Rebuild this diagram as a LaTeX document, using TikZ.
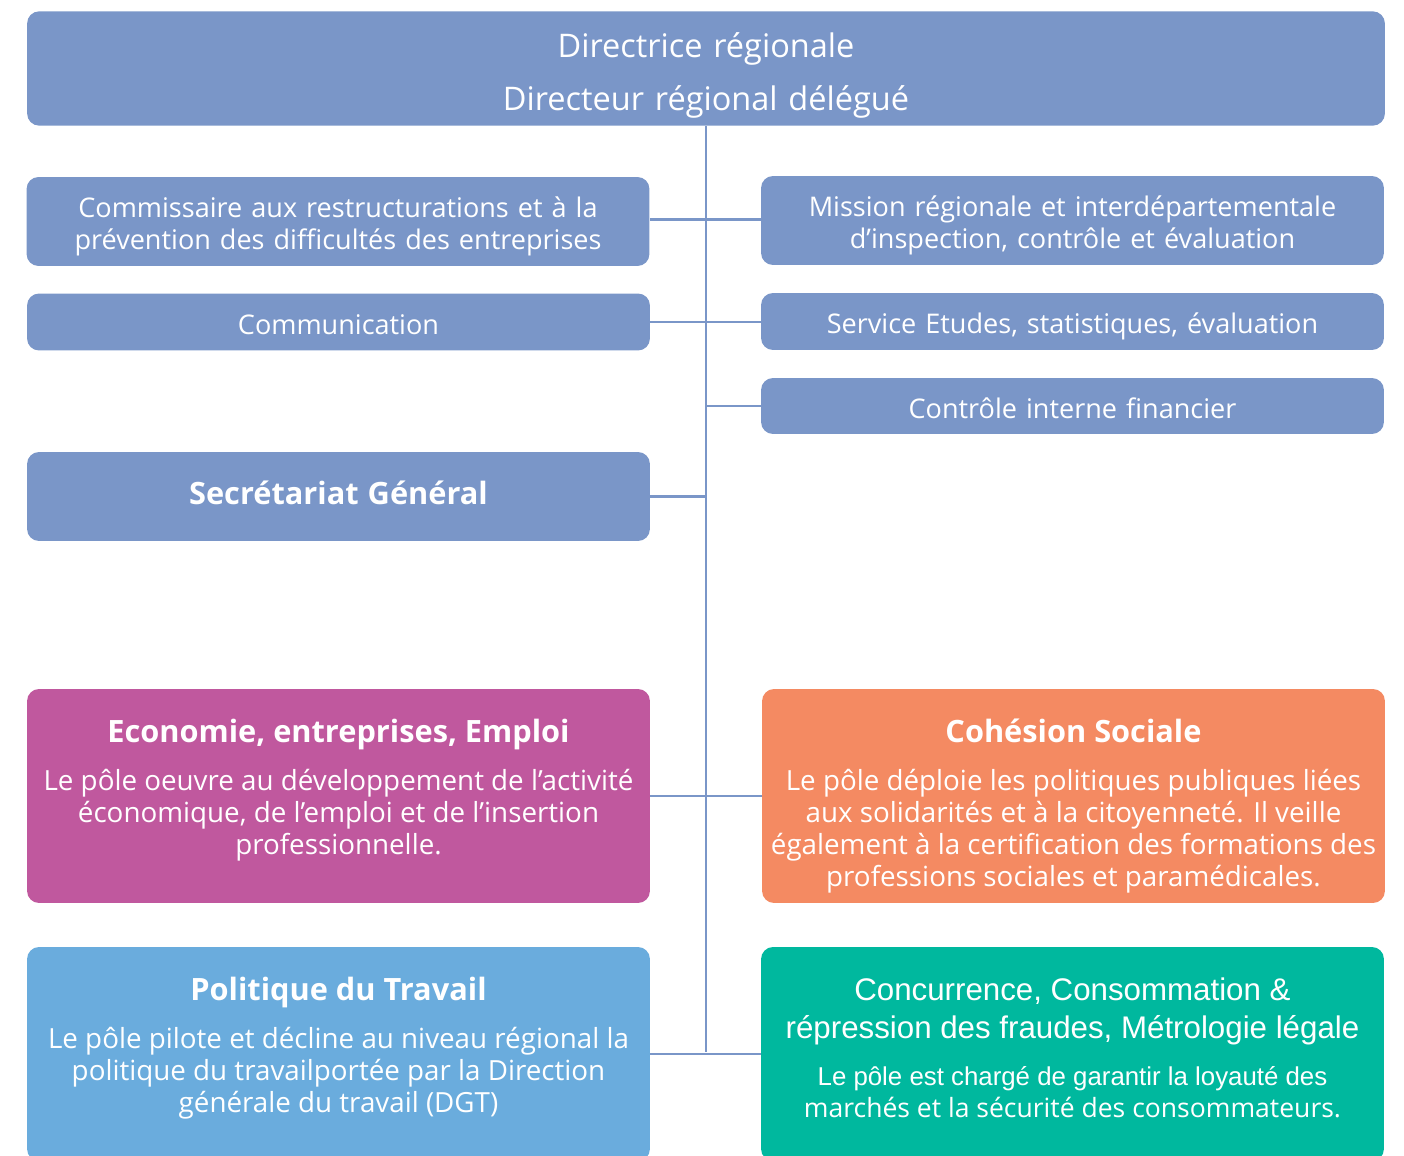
\documentclass[tikz,border=0pt]{standalone}
\usepackage{fontspec}
\setmainfont{Open Sans}
\newfontfamily\arialfont{Liberation Sans}
\usepackage{tikz}
\usetikzlibrary{positioning,calc}
\definecolor{dirblue}{HTML}{7A96C8}
\definecolor{polemag}{HTML}{C0589E}
\definecolor{poleorange}{HTML}{F48A62}
\definecolor{polesky}{HTML}{6AACDD}
\definecolor{polegreen}{HTML}{00B89E}
\tikzstyle{link}=[draw,dirblue,line width=1.6pt]
\tikzstyle{unit} =
  [rectangle, fill=dirblue, text=white, rounded corners=0.24cm,
   minimum width=12.46cm, text width=12.2cm, inner xsep=2pt, align=center,
   font=\fontsize{15.4}{18.2}\selectfont]
\tikzstyle{pole} =
  [rectangle, text=white, rounded corners=0.24cm, inner xsep=2pt,
   minimum width=12.46cm, minimum height=4.28cm,
   text height=0pt, text depth=60.8pt, font=\fontsize{15.8}{18.2}\selectfont]
% struts: height on the first line, depth on the last one
\newcommand{\hstrut}[1]{\rule{0pt}{#1}}
\newcommand{\dstrut}[1]{\rule[-#1]{0pt}{#1}}
\newcommand{\utop}{\hstrut{18.4pt}}
\newcommand{\ubot}{\dstrut{4.2pt}}
\newcommand{\poletitle}[1]{{\fontsize{17.5}{22}\selectfont\bfseries #1}}
\newcommand{\poletext}[1]{\parbox[t]{12.2cm}{\centering #1}}

\begin{document}
\begin{tikzpicture}[x=0.02cm, y=-0.02cm]
  \clip (0,0) rectangle (1404,1156);
  \node [unit, minimum width=27.16cm, text width=26cm, minimum height=2.26cm,
    font=\fontsize{18.5}{30.2}\selectfont] (dir) at (706,68.5)
    {\hstrut{23pt}Directrice régionale\\Directeur régional délégué\dstrut{5.2pt}};

  % services rattaches
  \node [unit, minimum height=1.78cm] (crp) at (338,221.5)
    {\utop Commissaire aux restructurations et à la\\prévention des difficultés des entreprises\ubot};
  \node [unit, minimum height=1.78cm] (mrii) at (1072.5,220.5)
    {\utop Mission régionale et interdépartementale\\d’inspection, contrôle et évaluation\ubot};
  \node [unit, minimum height=1.14cm] (com) at (338.5,322) {\utop Communication\ubot};
  \node [unit, minimum height=1.14cm] (sese) at (1072.5,321.5)
    {\utop Service Etudes, statistiques, évaluation\ubot};
  \node [unit, minimum height=1.12cm] (cif) at (1072.5,406)
    {\utop Contrôle interne financier\ubot};
  \node [unit, minimum height=1.78cm] (sg) at (338.5,496.5)
    {\hstrut{18pt}\poletitle{Secrétariat Général}\dstrut{9pt}};

  % poles
  \node [pole, fill=polemag] (p3e) at (338.5,796)
    {\poletext{\poletitle{Economie, entreprises, Emploi}\\[9pt]
     Le pôle oeuvre au développement de l’activité\\économique, de l’emploi et de l’insertion\\professionnelle.}};
  \node [pole, fill=poleorange] (pcs) at (1073.5,796)
    {\poletext{\poletitle{Cohésion Sociale}\\[9pt]
     Le pôle déploie les politiques publiques liées\\aux solidarités et à la citoyenneté. Il veille\\également à la certification des formations des\\professions sociales et paramédicales.}};
  \node [pole, fill=polesky] (pt) at (338.5,1054)
    {\poletext{\poletitle{Politique du Travail}\\[9pt]
     Le pôle pilote et décline au niveau régional la\\politique du travailportée par la Direction\\générale du travail (DGT)}};
  \node [pole, fill=polegreen] (pc) at (1072.5,1054)
    {\poletext{{\arialfont\fontsize{17.8}{21.6}\selectfont Concurrence, Consommation \&\\[3.4pt]répression des fraudes, Métrologie légale}\\[8.8pt]
     {\arialfont\fontsize{14.7}{18.2}\selectfont Le pôle est chargé de garantir la loyauté des}\\
     {\fontsize{15.1}{18.2}\selectfont marchés et la sécurité des consommateurs.}}};

  \coordinate (spine) at (706,1052);
  \draw [link] (dir.south) -- (spine);
  \draw [link] ([yshift=0.04cm]crp.east) -- ([yshift=0.04cm]crp.east -| mrii.west);
  \draw [link] (com.east) -- (com.east -| sese.west);
  \draw [link] (spine |- cif.west) -- (cif.west);
  \draw [link] (sg.east) -- (sg.east -| spine);
  \draw [link] (p3e.east) -- (p3e.east -| pcs.west);
  \draw [link] (pt.east) -- (pc.west);
\end{tikzpicture}
\end{document}
